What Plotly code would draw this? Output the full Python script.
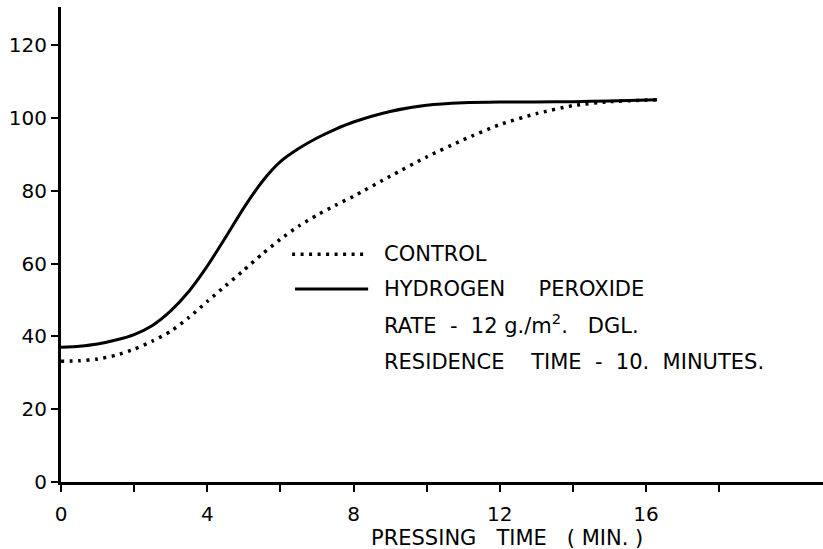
import plotly.graph_objects as go

# Data
time_min = [0, 0.5, 1, 1.5, 2, 2.5, 3, 3.5, 4, 4.5, 5, 5.5, 6, 6.5, 7, 7.5, 8, 9, 10, 11, 12, 13, 14, 15, 16.3]
hydrogen_peroxide = [37, 37.3, 37.9, 39, 40.5, 43, 47, 52.4, 59.3, 67.2, 75.3, 82.5, 88, 91.6, 94.5, 96.9, 98.9,
                     101.8, 103.5, 104.2, 104.4, 104.4, 104.5, 104.7, 105]
control = [33.2, 33.3, 33.8, 34.8, 36.5, 38.7, 41.4, 45.2, 49.6, 53.9, 58.2, 62.6, 66.7, 70.3, 73.3, 76, 78.5,
           84, 89.3, 94, 98.2, 101.2, 103.4, 104.5, 105]

x_major_ticks = [0, 4, 8, 12, 16]
x_minor_ticks = [2, 6, 10, 14, 18]
y_ticks = [0, 20, 40, 60, 80, 100, 120]

NB = "\u00a0"
legend_lines = [
    "CONTROL",
    "HYDROGEN" + NB * 5 + "PEROXIDE",
    "RATE" + NB * 2 + "-" + NB * 2 + "12" + NB + "g./m<sup>2</sup>." + NB * 3 + "DGL.",
    "RESIDENCE" + NB * 4 + "TIME" + NB * 2 + "-" + NB * 2 + "10." + NB * 2 + "MINUTES.",
]
x_title = "PRESSING" + NB * 3 + "TIME" + NB * 3 + "(" + NB + "MIN." + NB + ")"

FONT = "DejaVu Sans"

fig = go.Figure()
fig.add_trace(go.Scatter(x=time_min, y=control, mode="lines", name="CONTROL",
                         line=dict(color="black", width=3.5, dash="3px,5.5px", shape="spline", smoothing=0.6)))
fig.add_trace(go.Scatter(x=time_min, y=hydrogen_peroxide, mode="lines", name="HYDROGEN PEROXIDE",
                         line=dict(color="black", width=3, shape="spline", smoothing=0.6)))

# legend samples
fig.add_shape(type="line", xref="x", yref="y", x0=6.32, x1=8.4, y0=62.6, y1=62.6,
              line=dict(color="black", width=3.5, dash="3px,5.5px"))
fig.add_shape(type="line", xref="x", yref="y", x0=6.4, x1=8.4, y0=53.0, y1=53.0,
              line=dict(color="black", width=3))

label_y = [62.6, 53.0, 43.4, 33.0]
for txt, yy in zip(legend_lines, label_y):
    fig.add_annotation(x=8.78, y=yy, xref="x", yref="y", text=txt, showarrow=False,
                       xanchor="left", yanchor="middle", font=dict(family=FONT, size=21, color="black"))

fig.add_annotation(x=0.585, y=-0.118, xref="paper", yref="paper", text=x_title,
                   showarrow=False, xanchor="center", yanchor="middle",
                   font=dict(family=FONT, size=21, color="black"))

fig.update_xaxes(range=[0, 20.84], tickvals=x_major_ticks, ticks="outside",
                 ticklen=7, tickwidth=2, tickcolor="black", showline=True, linecolor="black",
                 linewidth=2.5, showgrid=False, zeroline=False, ticklabelstandoff=5,
                 tickfont=dict(family=FONT, size=20, color="black"),
                 minor=dict(tickvals=x_minor_ticks, ticks="outside", ticklen=7, tickwidth=2,
                            tickcolor="black", showgrid=False))
fig.update_yaxes(range=[0, 130.5], tickvals=y_ticks, ticks="outside", ticklen=7, tickwidth=2,
                 tickcolor="black", showline=True, linecolor="black", linewidth=3, showgrid=False,
                 zeroline=False, tickfont=dict(family=FONT, size=20, color="black"))

fig.update_layout(width=823, height=549, margin=dict(l=61, r=0, t=7, b=67),
                  paper_bgcolor="white", plot_bgcolor="white", showlegend=False)

fig.write_html("out.html")
